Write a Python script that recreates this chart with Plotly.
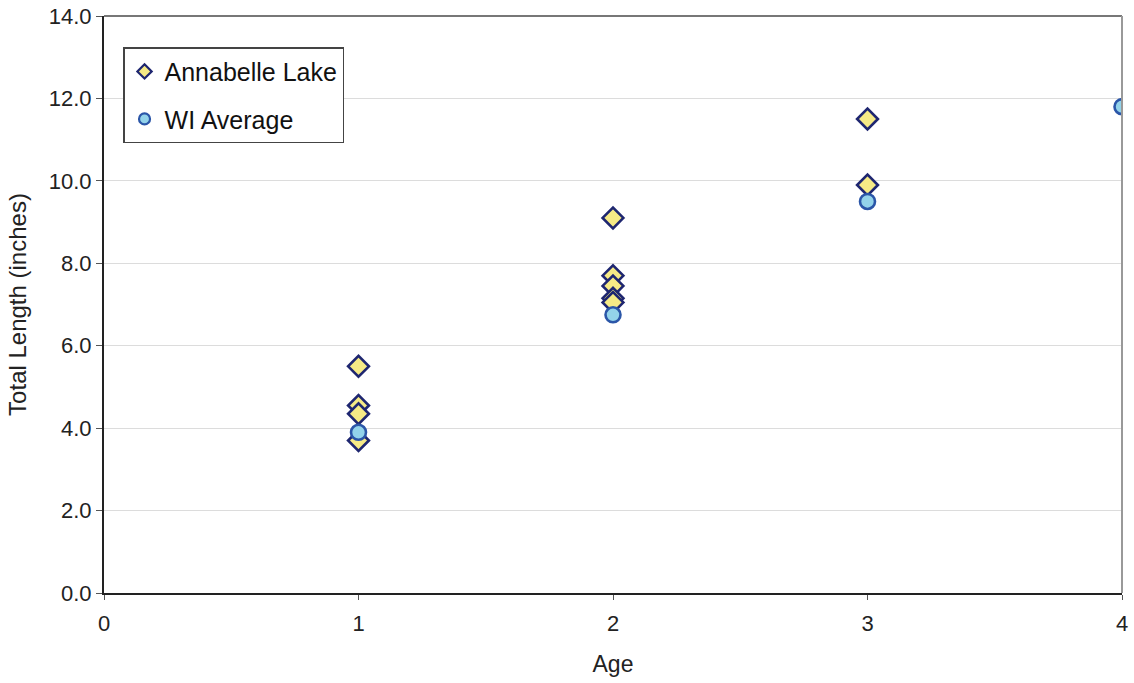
import plotly.graph_objects as go

# Data
annabelle_age = [1, 1, 1, 1, 2, 2, 2, 2, 2, 3, 3]
annabelle_len = [5.5, 4.55, 4.35, 3.7, 9.1, 7.7, 7.45, 7.15, 7.05, 11.5, 9.9]
wi_age = [1, 2, 3, 4]
wi_len = [3.9, 6.75, 9.5, 11.8]

x_ticks = [0, 1, 2, 3, 4]
y_ticks = [0, 2, 4, 6, 8, 10, 12, 14]

FONT = "Liberation Sans, Arial, sans-serif"

A_MARK = dict(symbol="diamond", color="#F6EA86", line=dict(color="#1E2670", width=2.6))
W_MARK = dict(symbol="circle", color="#93D3EA", line=dict(color="#2B56A8", width=2.6))

fig = go.Figure()
fig.add_trace(go.Scatter(
    x=annabelle_age, y=annabelle_len, mode="markers", name="Annabelle Lake",
    showlegend=False, marker=dict(size=16, **A_MARK),
))
fig.add_trace(go.Scatter(
    x=wi_age, y=wi_len, mode="markers", name="WI Average",
    showlegend=False, marker=dict(size=15, **W_MARK),
))
# legend entries (smaller symbols, as in the original legend)
fig.add_trace(go.Scatter(
    x=[None], y=[None], mode="markers", name="Annabelle Lake", legendgroup="a",
    marker=dict(size=11, symbol="diamond", color="#F6EA86", line=dict(color="#1E2670", width=2.2)),
))
fig.add_trace(go.Scatter(
    x=[None], y=[None], mode="markers", name="WI Average", legendgroup="b",
    marker=dict(size=11, symbol="circle", color="#93D3EA", line=dict(color="#2B56A8", width=2.2)),
))

fig.update_layout(
    width=1134, height=683,
    margin=dict(l=104, r=12, t=16, b=90),
    paper_bgcolor="white", plot_bgcolor="white",
    font=dict(family=FONT, size=22, color="#222"),
    showlegend=True,
    legend=dict(
        x=0.0187, y=0.946, xanchor="left", yanchor="top",
        bgcolor="white", bordercolor="#444", borderwidth=1.5,
        font=dict(family=FONT, size=25, color="#111"),
        tracegroupgap=12, traceorder="grouped",
        itemwidth=30,
    ),
    xaxis=dict(
        range=[0, 4], tickvals=x_ticks, ticktext=[str(v) for v in x_ticks],
        showgrid=False, zeroline=False, automargin=False,
        showline=True, linecolor="#222", linewidth=2,
        ticks="outside", ticklen=5, tickcolor="#555", tickwidth=1,
        ticklabelstandoff=5,
        tickfont=dict(size=22, color="#222"),
        title=dict(text="Age", font=dict(size=23, color="#222"), standoff=20),
    ),
    yaxis=dict(
        range=[0, 14], tickvals=y_ticks, ticktext=[f"{v:.1f}" for v in y_ticks],
        showgrid=True, gridcolor="#dcdcdc", gridwidth=1,
        zeroline=False, automargin=False,
        showline=True, linecolor="#222", linewidth=2,
        ticks="outside", ticklen=6, tickcolor="#555", tickwidth=1,
        tickfont=dict(size=22, color="#222"),
        title=dict(text="Total Length (inches)", font=dict(size=24, color="#222"), standoff=15),
    ),
    shapes=[
        dict(type="line", xref="paper", yref="paper", x0=0, x1=1, y0=1, y1=1,
             line=dict(color="#777", width=2)),
        dict(type="line", xref="paper", yref="paper", x0=1, x1=1, y0=0, y1=1,
             line=dict(color="#999", width=2)),
    ],
)

fig.write_html("out.html", config={"displayModeBar": False},
               post_script="document.body.style.margin='0';")
